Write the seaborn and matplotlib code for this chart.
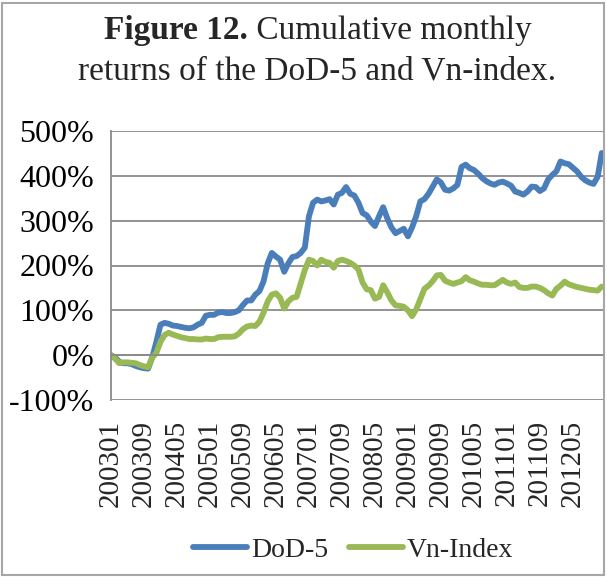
import numpy as np
import pandas as pd
import seaborn as sns
import matplotlib
matplotlib.use("Agg")
import matplotlib.pyplot as plt
from matplotlib.patches import Rectangle
from matplotlib.lines import Line2D

# ---------------- data ----------------
months = [f"{y}{m:02d}" for y in range(2003, 2013) for m in range(1, 13)]  # 200301..201212
tick_labels = ["200301", "200309", "200405", "200501", "200509", "200605", "200701",
               "200709", "200805", "200901", "200909", "201005", "201101", "201109", "201205"]

dod5 = [0, -5, -15, -18, -18, -20, -24, -27, -29, -30,
        -5, 30, 68, 72, 70, 66, 65, 63, 61, 60,
        62, 68, 72, 88, 90, 90, 95, 96, 94, 94,
        96, 100, 112, 122, 122, 135, 143, 165, 205, 228,
        220, 213, 186, 205, 219, 221, 228, 240, 310, 340,
        347, 343, 345, 348, 336, 358, 362, 375, 360, 356,
        340, 317, 312, 298, 288, 310, 330, 305, 285, 272,
        277, 282, 265, 285, 310, 343, 348, 360, 376, 392,
        385, 369, 367, 372, 380, 420, 425, 417, 413, 405,
        395, 388, 383, 380, 385, 387, 383, 378, 365, 362,
        358, 365, 376, 375, 366, 372, 392, 402, 410, 432,
        428, 426, 418, 410, 398, 390, 385, 382, 398, 451]

vnindex = [0, -8, -18, -16, -16, -17, -18, -22, -25, -27,
           -5, 5, 30, 45, 50, 46, 43, 40, 38, 36,
           36, 35, 35, 37, 36, 36, 40, 41, 41, 41,
           42, 48, 58, 64, 66, 65, 75, 95, 120, 135,
           138, 128, 104, 120, 128, 130, 160, 190, 213, 210,
           200, 213, 208, 206, 195, 210, 213, 210, 206, 200,
           191, 162, 147, 145, 126, 130, 156, 140, 122, 111,
           110, 108, 100, 87, 102, 125, 148, 155, 165, 178,
           179, 166, 162, 159, 162, 165, 174, 167, 164, 160,
           157, 157, 156, 156, 162, 168, 162, 159, 162, 152,
           150, 150, 153, 153, 150, 145, 138, 133, 148, 155,
           164, 158, 155, 152, 150, 148, 146, 145, 144, 153]

series_names = ["DoD-5", "Vn-Index"]
y_ticks = [-100, 0, 100, 200, 300, 400, 500]

idx = np.arange(len(months))
df = pd.DataFrame({
    "idx": np.concatenate([idx, idx]),
    "month": months + months,
    "value": dod5 + vnindex,
    "series": [series_names[0]] * len(months) + [series_names[1]] * len(months),
})

# ---------------- style ----------------
sns.set_theme(style="white")
plt.rcParams["font.family"] = ["Liberation Serif", "DejaVu Serif"]

W, H = 607, 577
fig = plt.figure(figsize=(W / 100, H / 100), dpi=100)
fig.patch.set_facecolor("white")

# outer chart frame
fig.patches.append(Rectangle((2 / W, 2 / H), (W - 5) / W, (H - 5) / H,
                             transform=fig.transFigure, fill=False,
                             edgecolor="#a6a6a6", linewidth=1.5))

ax = fig.add_axes([111 / W, 1 - 400 / H, (603 - 111) / W, (400 - 131) / H])

palette = {"DoD-5": "#4A7EBB", "Vn-Index": "#98B954"}
sns.lineplot(data=df, x="idx", y="value", hue="series", palette=palette,
             linewidth=4.2, ax=ax, legend=False)
for ln in ax.lines:
    ln.set_solid_capstyle("round")
    ln.set_solid_joinstyle("round")

grid_c = "#8a8a8a"
ax.set_ylim(-100, 500)
ax.set_xlim(0, len(months) - 1 + 0.3)
ax.set_yticks(y_ticks)
ax.set_yticklabels([f"{v}%" for v in y_ticks], fontsize=23)
ax.yaxis.grid(True, color=grid_c, linewidth=1.3)
ax.xaxis.grid(False)
ax.set_axisbelow(True)
ax.tick_params(axis="y", direction="out", length=4, width=1.2, color=grid_c,
               pad=8, labelcolor="black")

for s in ["top", "right"]:
    ax.spines[s].set_visible(False)
ax.spines["left"].set_color(grid_c)
ax.spines["left"].set_linewidth(1.3)
ax.spines["bottom"].set_position(("data", 0))
ax.spines["bottom"].set_color(grid_c)
ax.spines["bottom"].set_linewidth(1.3)

# category tick marks on the zero axis
ax.set_xticks(idx)
ax.set_xticklabels([])
ax.tick_params(axis="x", direction="out", length=6, width=1.1, color=grid_c)

# category labels at the bottom of the plot area
sec = ax.secondary_xaxis("bottom")
sec.set_xticks([months.index(t) for t in tick_labels])
sec.set_xticklabels(tick_labels, rotation=90, fontsize=21)
sec.tick_params(length=0, pad=14)
sec.spines["bottom"].set_visible(False)

ax.set_xlabel("")
ax.set_ylabel("")

# title (bold prefix + regular rest), centred
fig.canvas.draw()
r = fig.canvas.get_renderer()
tsize = 24
cx = W / 2 + 14
y1 = 1 - 39 / H
t_a = fig.text(0, y1, "Figure 12.", fontsize=tsize, fontweight="bold", va="baseline")
t_b = fig.text(0, y1, " Cumulative monthly", fontsize=tsize, va="baseline")
wa = t_a.get_window_extent(r).width
wb = t_b.get_window_extent(r).width
x0 = (cx - (wa + wb) / 2)
t_a.set_x(x0 / W)
t_b.set_x((x0 + wa) / W)
fig.text(cx / W, 1 - 80 / H, "returns of the DoD-5 and Vn-index.",
         fontsize=tsize, ha="center", va="baseline")

# legend
handles = [Line2D([], [], color=palette[n], linewidth=4.2, solid_capstyle="round")
           for n in series_names]
fig.legend(handles, series_names, loc="center", ncol=2, frameon=False,
           bbox_to_anchor=(353 / W, 1 - 550 / H), bbox_transform=fig.transFigure,
           fontsize=20, handlelength=1.95, handletextpad=0.15, columnspacing=0.75)

fig.savefig("out.png", dpi=100)
